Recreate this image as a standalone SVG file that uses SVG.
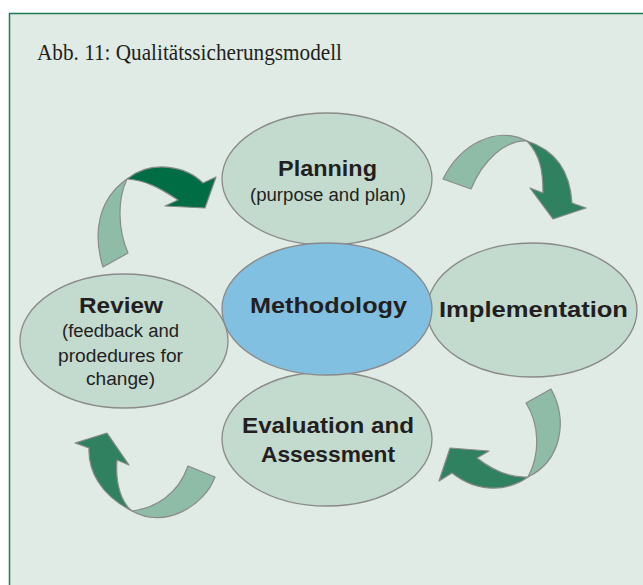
<svg xmlns="http://www.w3.org/2000/svg" width="643" height="585" viewBox="0 0 643 585">
<style>
.node{fill:#c3dacf;stroke:#8a8a8a;stroke-width:1.3}
.core{fill:#82c0e2;stroke:#8a8a8a;stroke-width:1.3}
.t{font-family:"Liberation Sans",Arial,sans-serif;fill:#231f20;text-anchor:middle}
.b{font-weight:bold;font-size:22px}
.s{font-size:18px}
.tail{fill:#8fbca7;stroke:#8a8a8a;stroke-width:1.2;stroke-linejoin:round}
.head{fill:#2f8160;stroke:#8a8a8a;stroke-width:1.2;stroke-linejoin:round}
.head2{fill:#006d45;stroke:#8a8a8a;stroke-width:1.2;stroke-linejoin:round}
</style>
<rect x="0" y="0" width="643" height="585" fill="#ffffff"/>
<rect x="9.5" y="13.5" width="660" height="600" fill="#dfebe4" stroke="#1f7a55" stroke-width="1.5"/>
<text x="37" y="60" font-family="Liberation Serif,'Times New Roman',serif" font-size="24" fill="#231f20" textLength="305" lengthAdjust="spacingAndGlyphs">Abb. 11: Qualitätssicherungsmodell</text>
<g id="connectors">
<path class="tail" d="M103,267 C93,235 97,200 127,179 C117,200 118,230 128,253 Z"/>
<path class="head2" d="M127,179 C150,160 185,165 203,183 L216,177 L205,208 L165,206 L178,200 C160,188 145,180 127,179 Z"/>
<path class="tail" d="M443,179 C460,145 495,125 527,141 C505,140 483,160 471,189 Z"/>
<path class="head" d="M527,141 C555,150 570,170 572,203 L586,208 L553,219 L530,188 L543,193 C543,170 540,155 527,141 Z"/>
<path class="tail" d="M551,389 C568,420 562,460 528,477 C540,455 540,425 526,403 Z"/>
<path class="head" d="M528,477 C510,490 480,495 452,473 L439,481 L450,448 L489,451 L477,458 C495,472 512,478 528,477 Z"/>
<path class="tail" d="M215,477 C205,505 165,530 132,511 C155,508 178,495 188,466 Z"/>
<path class="head" d="M132,511 C100,495 88,470 89,448 L75,443 L107,433 L129,465 L117,460 C115,485 122,503 132,511 Z"/>
</g>
<g id="planning">
<ellipse class="node" cx="327" cy="179" rx="105" ry="66"/>
<text class="t b" x="327.5" y="176" textLength="99" lengthAdjust="spacingAndGlyphs">Planning</text>
<text class="t s" x="328" y="201" textLength="156" lengthAdjust="spacingAndGlyphs">(purpose and plan)</text>
</g>
<g id="review">
<ellipse class="node" cx="124" cy="341" rx="104" ry="67"/>
<text class="t b" x="121" y="313" textLength="84" lengthAdjust="spacingAndGlyphs">Review</text>
<text class="t s" x="120.5" y="337" textLength="117" lengthAdjust="spacingAndGlyphs">(feedback and</text>
<text class="t s" x="120.5" y="362" textLength="125" lengthAdjust="spacingAndGlyphs">prodedures for</text>
<text class="t s" x="120.5" y="385" textLength="69" lengthAdjust="spacingAndGlyphs">change)</text>
</g>
<g id="implementation">
<ellipse class="node" cx="532" cy="310" rx="105" ry="67"/>
<text class="t b" x="533.5" y="317" textLength="189" lengthAdjust="spacingAndGlyphs">Implementation</text>
</g>
<g id="evaluation">
<ellipse class="node" cx="327" cy="439" rx="105" ry="67"/>
<text class="t b" x="328" y="433" textLength="172" lengthAdjust="spacingAndGlyphs">Evaluation and</text>
<text class="t b" x="328" y="462" textLength="134" lengthAdjust="spacingAndGlyphs">Assessment</text>
</g>
<g id="methodology">
<ellipse class="core" cx="327" cy="309" rx="105" ry="66"/>
<text class="t b" x="328.5" y="313" textLength="157" lengthAdjust="spacingAndGlyphs">Methodology</text>
</g>
</svg>
